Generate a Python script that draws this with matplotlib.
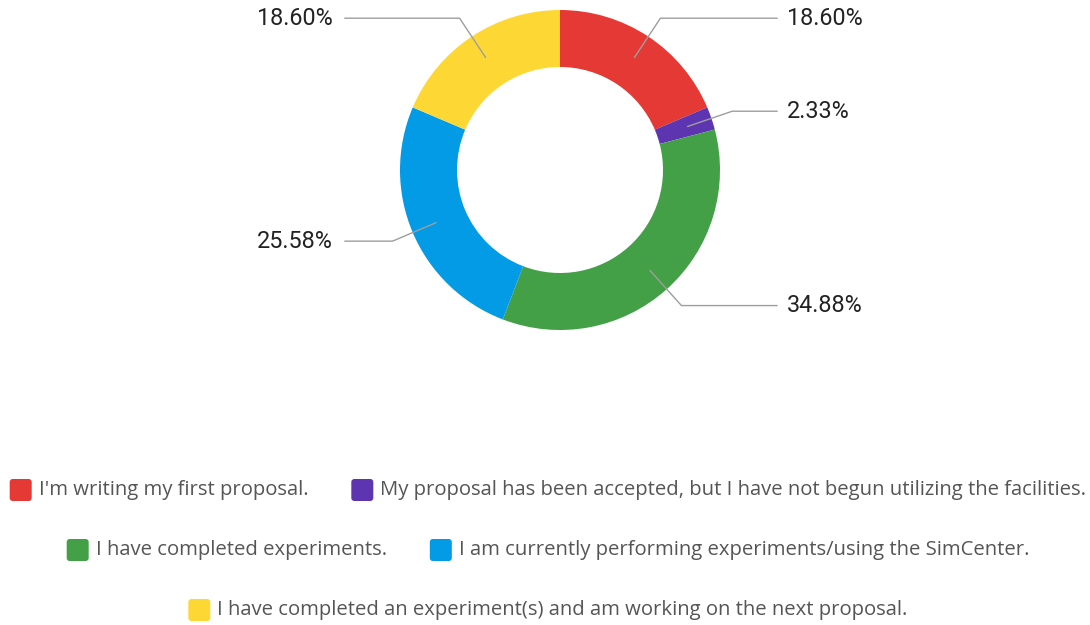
"""Donut chart of respondent status with leader-line labels."""

import numpy as np
import matplotlib.pyplot as plt
from matplotlib.patches import FancyBboxPatch

labels = ["I'm writing my first proposal.",
          "My proposal has been accepted, but I have not begun utilizing the facilities.",
          "I have completed experiments.",
          "I am currently performing experiments/using the SimCenter.",
          "I have completed an experiment(s) and am working on the next proposal."]
shares = [18.60, 2.33, 34.88, 25.58, 18.60]
colors = ["#E53935", "#5E35B1", "#43A047", "#039BE5", "#FDD835"]
legend_rows = [[0, 1], [2, 3], [4]]

W, H = 1090, 625
fig = plt.figure(figsize=(W / 100, H / 100), dpi=100, facecolor='w')
ax = fig.add_axes([0, 0, 1, 1])

cx, cy = 560, H - 170  # donut centre in pixel coords (y up)
R = 160
ring = 57

ax.pie(shares, colors=colors, startangle=90, counterclock=False,
       radius=R, center=(cx, cy),
       wedgeprops=dict(width=ring, edgecolor='none', linewidth=0))
ax.set_xlim(0, W)
ax.set_ylim(0, H)
ax.set_aspect('equal')
ax.axis('off')

# leader lines + percentage labels
total = sum(shares)
cum = 0
for v in shares:
    mid = (cum + v / 2) / total * 2 * np.pi  # clockwise from top
    cum += v
    sx, sy = np.sin(mid), np.cos(mid)
    x0, y0 = cx + 135 * sx, cy + 135 * sy
    x1, y1 = cx + 182 * sx, cy + 182 * sy
    if sx >= 0:
        x2 = cx + 217
        ax.plot([x0, x1, x2], [y0, y1, y1], c='#9e9e9e', lw=1)
        ax.text(x2 + 10, y1, '%.2f%%' % v, ha='left', va='center',
                fontsize=16.8, family='Roboto', color='#222222')
    else:
        x2 = cx - 215
        ax.plot([x0, x1, x2], [y0, y1, y1], c='#9e9e9e', lw=1)
        ax.text(x2 - 12, y1, '%.2f%%' % v, ha='right', va='center',
                fontsize=16.8, family='Roboto', color='#222222')

# legend, laid out by hand so each row is centred
fig.canvas.draw()
renderer = fig.canvas.get_renderer()
row_y = [H - 490, H - 550, H - 610]
box = 22
pad = 7
gap = 43
for row, yy in zip(legend_rows, row_y):
    items = []
    for i in row:
        t = ax.text(0, yy, labels[i], ha='left', va='center', fontsize=14.6,
                    family='Open Sans', color='#555555')
        w = t.get_window_extent(renderer).width
        items.append((i, t, w))
    row_w = sum(box + pad + w for _, _, w in items) + gap * (len(items) - 1)
    x = 548 - row_w / 2
    for i, t, w in items:
        ax.add_patch(FancyBboxPatch((x + 3, yy - box / 2 + 3), box - 6, box - 6,
                                    boxstyle='round,pad=3', fc=colors[i],
                                    ec='none'))
        t.set_x(x + box + pad)
        x += box + pad + w + gap

fig.savefig('out.png', dpi=100, facecolor='w')
